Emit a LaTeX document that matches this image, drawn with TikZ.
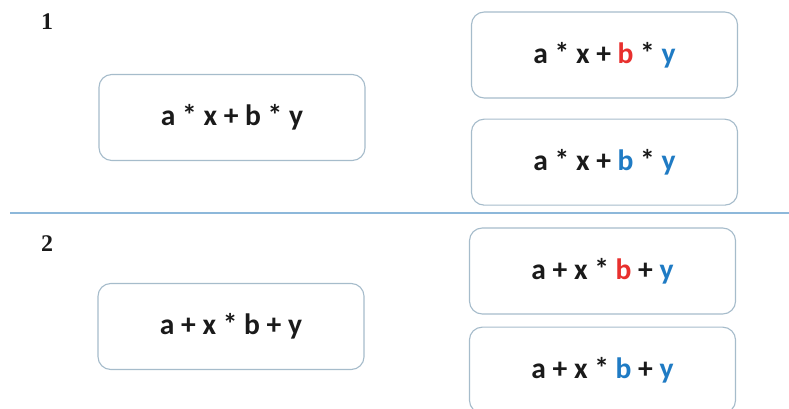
\documentclass[tikz,border=0pt]{standalone}
\usepackage{fontspec}
\setmainfont{Carlito}
\newfontfamily\numfont{Liberation Serif}
\usetikzlibrary{positioning}
\definecolor{ex-red}{HTML}{E8302E}
\definecolor{ex-blue}{HTML}{1F7BC4}
\definecolor{ex-frame}{HTML}{A6BCCB}
\definecolor{ex-rule}{HTML}{8DB8DA}
\definecolor{ex-text}{HTML}{1A1A1A}

\begin{document}
\begin{tikzpicture}[x=0.025cm, y=-0.025cm]

  % Styles for the expression boxes
  \tikzset{
    expr/.style={draw=ex-frame, line width=0.8pt, rounded corners=0.32cm, fill=white,
      minimum width=6.65cm, minimum height=2.15cm, text=ex-text, align=center,
      font=\fontsize{21}{24}\selectfont\bfseries},
    tag/.style={font=\numfont\fontsize{17}{20}\selectfont\bfseries, text=ex-text}
  }

  \useasboundingbox (0,0) rectangle (789,408);

  % Part 1
  \node (one)    [tag]  at (47,22)     {1};
  \node (src1)   [expr] at (232,117.5) {a * x + b * y};
  \node (red1)   [expr] at (604.5,55)  {a * x + \textcolor{ex-red}{b} * \textcolor{ex-blue}{y}};
  \node (blue1)  [expr, below=0.5cm of red1] {a * x + \textcolor{ex-blue}{b} * \textcolor{ex-blue}{y}};

  % Separator
  \coordinate (sepL) at (10,213);
  \coordinate (sepR) at (789,213);
  \draw[ex-rule, line width=0.9pt] (sepL) -- (sepR);

  % Part 2
  \node (two)    [tag]  at (47,244)    {2};
  \node (src2)   [expr] at (231,326.5) {a + x * b + y};
  \node (red2)   [expr] at (602.5,271) {a + x * \textcolor{ex-red}{b} + \textcolor{ex-blue}{y}};
  \node (blue2)  [expr, below=0.3cm of red2] {a + x * \textcolor{ex-blue}{b} + \textcolor{ex-blue}{y}};

\end{tikzpicture}
\end{document}
